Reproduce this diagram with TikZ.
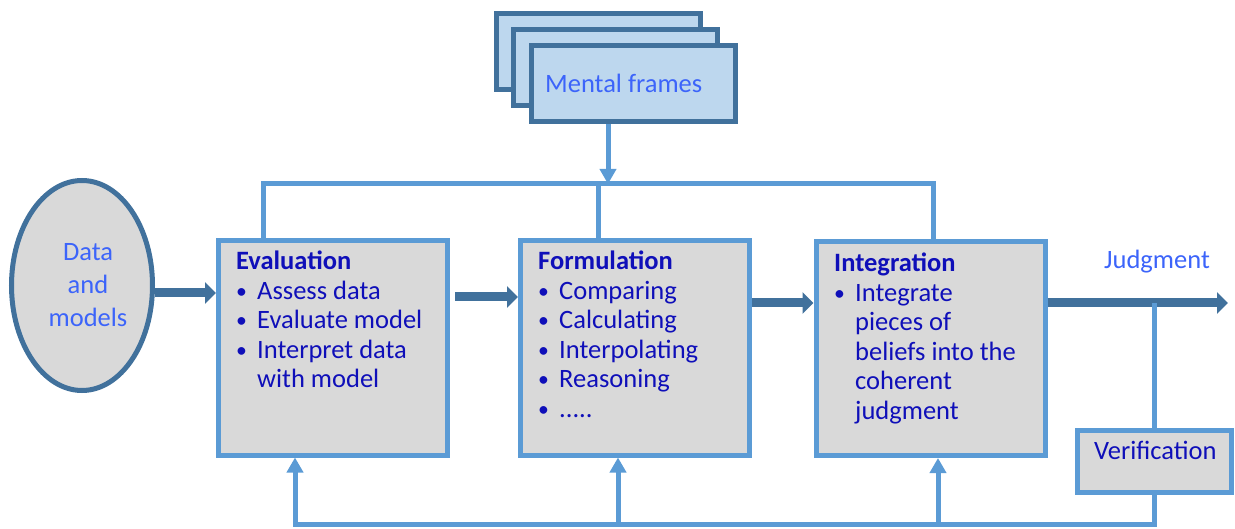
\documentclass[tikz,border=0pt]{standalone}
\usepackage{fontspec}
\setmainfont{Carlito}
\usetikzlibrary{arrows.meta,shapes.geometric}
\definecolor{lineblue}{RGB}{91,155,213}
\definecolor{darkblue}{RGB}{65,113,156}
\definecolor{boxgray}{RGB}{217,217,217}
\definecolor{framefill}{RGB}{189,215,238}
\definecolor{textdark}{RGB}{15,15,185}
\definecolor{textlight}{RGB}{60,100,250}
\newcommand{\bul}{\makebox[21pt][l]{\raisebox{1.2pt}{\scalebox{0.82}{\textbullet}}}}
\begin{document}
\begin{tikzpicture}[x=1pt,y=-1pt,
  procbox/.style={draw=lineblue, line width=5pt, fill=boxgray, minimum width=229pt, minimum height=214pt, inner sep=0pt},
  framebox/.style={draw=darkblue, line width=5pt, fill=framefill, minimum width=204pt, minimum height=76pt, inner sep=0pt},
  thinline/.style={draw=lineblue, line width=5pt, line join=miter},
  thinarrow/.style={thinline, -{Triangle[length=15pt,width=16pt]}},
  thickarrow/.style={draw=darkblue, line width=9pt, -{Triangle[length=11pt,width=21pt]}},
  bodyfont/.style={font=\fontsize{26.5}{29.5}\selectfont},
  dtext/.style={bodyfont, text=textdark, inner sep=0pt, anchor=base west},
  ltext/.style={bodyfont, text=textlight, inner sep=0pt, anchor=base west}]
\useasboundingbox (0,0) rectangle (1235,529);

% mental frames stack
\node[framebox] (frame3) at (598,52) {};
\node[framebox] (frame2) at (615,67.5) {};
\node[framebox] (frame1) at (633.5,83.5) {};
\node[ltext] (frametxt) at (545,93) {Mental frames};

% data ellipse
\node[ellipse, draw=darkblue, line width=5pt, fill=boxgray, minimum width=141pt, minimum height=210pt, inner sep=0pt] (data) at (82,285.5) {};
\node[bodyfont, text=textlight, inner sep=0pt, anchor=base] (datatxt) at (88,261)
  {\parbox[t]{120pt}{\centering\fontsize{26.5}{33}\selectfont Data\\and\\models}};

% process boxes
\node[procbox] (eval) at (333,348) {};
\node[procbox] (form) at (635,348) {};
\node[procbox] (integ) at (930.5,348.5) {};
\node[procbox, minimum width=154pt, minimum height=62pt] (verif) at (1154.5,461.5) {};

\node[dtext] (evaltxt) at (236,270) {\parbox[t]{205pt}{\raggedright
  \textbf{Evaluation}\\
  \bul Assess data\\
  \bul Evaluate model\\
  \bul Interpret data\\
  \hspace*{21pt}with model}};
\node[dtext] (formtxt) at (538,270) {\parbox[t]{205pt}{\raggedright
  \textbf{Formulation}\\
  \bul Comparing\\
  \bul Calculating\\
  \bul Interpolating\\
  \bul Reasoning\\
  \bul .....}};
\node[dtext] (integtxt) at (834,272) {\parbox[t]{205pt}{\raggedright
  \textbf{Integration}\\
  \bul Integrate\\
  \hspace*{21pt}pieces of\\
  \hspace*{21pt}beliefs into the\\
  \hspace*{21pt}coherent\\
  \hspace*{21pt}judgment}};
\node[dtext] (veriftxt) at (1094,459) {Verification};
\node[ltext] (judgtxt) at (1104,269) {Judgment};

% helper coordinates
\coordinate (tl) at (263,184);
\coordinate (tm) at (598,184);
\coordinate (tr) at (933,184);
\coordinate (fa) at (608,184);
\coordinate (jend) at (1228,303);
\coordinate (bl) at (295,524);
\coordinate (b2) at (618,524);
\coordinate (b3) at (938,524);

% thick flow arrows
\draw[thickarrow] (data.east |- 0,293) -- (eval.west |- 0,293);
\draw[thickarrow, shorten <=5pt] (eval.east |- 0,297) -- (form.west |- 0,297);
\draw[thickarrow] (form.east |- 0,303) -- (integ.west |- 0,303);
\draw[thickarrow] (integ.east |- jend) -- (jend);

% top connections
\draw[thinline] (tl |- eval.north) -- (tl) -- (tr) -- (tr |- integ.north);
\draw[thinline] (tm) -- (tm |- form.north);
\draw[thinarrow] (fa |- frame1.south) -- (fa);

% verification loop
\draw[thinline] (verif.north |- jend) -- (verif.north);
\draw[thinarrow] (verif.south) -- (verif.south |- bl) -- (bl) -- (bl |- eval.south);
\draw[thinarrow] (b2) -- (b2 |- form.south);
\draw[thinarrow] (b3) -- (b3 |- integ.south);
\end{tikzpicture}
\end{document}
